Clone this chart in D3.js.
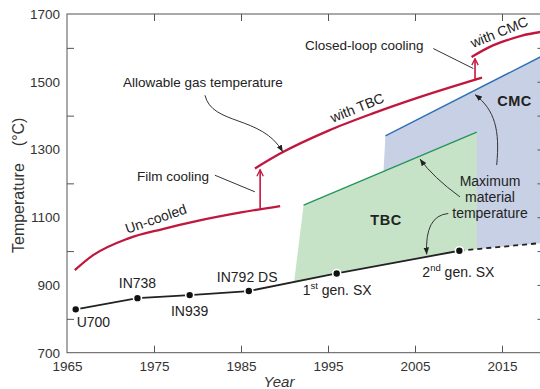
<!DOCTYPE html>
<html>
<head>
<meta charset="utf-8">
<script src="https://cdn.jsdelivr.net/npm/d3@7"></script>
<style>
body { margin: 0; background: #fff; }
text { font-family: "Liberation Sans", Arial, Helvetica, sans-serif; fill: #222; }
</style>
</head>
<body>
<svg id="chart" width="540" height="389"></svg>
<script>
// alloy milestones (black line)
var alloyNames = ['U700', 'IN738', 'IN939', 'IN792 DS', '1st gen. SX', '2nd gen. SX'];
var alloyYears = [1966.0, 1973.1, 1979.1, 1985.9, 1996.0, 2010.1];
var alloyTemps = [828, 861, 870, 882, 934, 1001];
var projected = [[2010.1, 1001], [2020, 1025]];

// allowable gas temperature (red)
var uncooled = [[1965.9, 944], [1968, 988], [1972, 1037], [1976, 1065], [1980, 1089], [1985, 1114], [1989.5, 1133]];
var withTBC = [[1986.6, 1244], [1989.5, 1288], [1995, 1355], [2000, 1405], [2005, 1450], [2012.7, 1512]];
var withCMC = [[2011.5, 1573], [2013.6, 1603], [2015.5, 1622], [2017.4, 1637], [2019.4, 1647], [2020, 1650]];

// maximum material temperature
var tbcLine = [[1992.2, 1136], [2012.1, 1351]];
var cmcLine = [[2001.6, 1340], [2020, 1581]];
var tbcRegion = [[1992.2, 1136], [2012.1, 1351], [2012.1, 1006], [2010.1, 1001], [1996, 934], [1991.1, 908]];
var cmcRegion = [[2001.6, 1340], [2020, 1581], [2020, 1025], [2010.1, 1001], [2000.8, 957]];

// cooling steps
var filmCooling = [[1987.2, 1121], [1987.2, 1240]];
var closedLoop = [[2011.9, 1505], [2011.9, 1568]];

var xLabels = [1965, 1975, 1985, 1995, 2005, 2015];
var yLabels = [700, 900, 1100, 1300, 1500, 1700];
var yMinor = [800, 1000, 1200, 1400, 1600];
var yRight = [800, 900, 1000, 1100, 1200, 1300, 1400, 1500, 1600];

var red = '#c0173f';

var svg = d3.select('#chart');

var x = d3.scaleLinear().domain([1965, 2020]).range([67, 545.5]);
var y = d3.scaleLinear().domain([700, 1700]).range([352.7, 14]);
var P = function(d) { return [x(d[0]), y(d[1])]; };

var defs = svg.append('defs');
defs.append('marker')
    .attr('id', 'arrowBlack')
    .attr('viewBox', '0 0 10 10')
    .attr('refX', 10).attr('refY', 5)
    .attr('markerWidth', 7).attr('markerHeight', 7)
    .attr('markerUnits', 'userSpaceOnUse')
    .attr('orient', 'auto')
    .append('path').attr('d', 'M0,1 L10,5 L0,9 Z').attr('fill', '#222');
defs.append('marker')
    .attr('id', 'arrowRed')
    .attr('viewBox', '0 0 10 10')
    .attr('refX', 9).attr('refY', 5)
    .attr('markerWidth', 8).attr('markerHeight', 8)
    .attr('markerUnits', 'userSpaceOnUse')
    .attr('orient', 'auto')
    .append('path').attr('d', 'M1,1 L9,5 L1,9').attr('fill', 'none')
    .attr('stroke', red).attr('stroke-width', 1.6);

var polygon = d3.line().x(d => x(d[0])).y(d => y(d[1]));
var curve = d3.line().x(d => x(d[0])).y(d => y(d[1])).curve(d3.curveMonotoneX);

// regions
svg.append('path').attr('d', polygon(cmcRegion) + 'Z').attr('fill', '#c8d0e6');
svg.append('path').attr('d', polygon(tbcRegion) + 'Z').attr('fill', '#c6e3c8');
svg.append('path').attr('d', polygon(cmcLine)).attr('stroke', '#2f70b4').attr('stroke-width', 1.4).attr('fill', 'none');
svg.append('path').attr('d', polygon(tbcLine)).attr('stroke', '#23955a').attr('stroke-width', 1.4).attr('fill', 'none');

// frame and axes
var frame = svg.append('g').attr('stroke', '#555').attr('fill', 'none');
frame.append('rect')
    .attr('x', x(1965)).attr('y', y(1700))
    .attr('width', x(2020) - x(1965)).attr('height', y(700) - y(1700));

var axisStyle = function(g) {
    g.select('.domain').remove();
    g.selectAll('line').attr('stroke', '#555');
    g.selectAll('text').attr('font-size', '13.5px').style('fill', '#333');
};

svg.append('g').attr('transform', `translate(0,${y(700)})`)
    .call(d3.axisBottom(x).tickValues(xLabels).tickSize(-7).tickPadding(8.5).tickFormat(d3.format('d')))
    .call(axisStyle)
    .call(g => g.selectAll('.tick').filter(d => d === 1965).select('line').remove())
    .call(g => g.selectAll('text').attr('font-family', null));

svg.append('g').attr('transform', `translate(0,${y(1700)})`)
    .call(d3.axisTop(x).tickValues(xLabels.slice(1)).tickSize(-7).tickFormat(''))
    .call(axisStyle);

svg.append('g').attr('transform', `translate(${x(1965)},0)`)
    .call(d3.axisLeft(y).tickValues(yLabels).tickSize(0).tickPadding(7).tickFormat(d3.format('d')))
    .call(axisStyle)
    .call(g => g.selectAll('text').attr('font-family', null));

svg.append('g').attr('transform', `translate(${x(1965)},0)`)
    .call(d3.axisLeft(y).tickValues(yMinor).tickSize(-7).tickFormat(''))
    .call(axisStyle);

svg.append('g').attr('transform', `translate(${x(2020)},0)`)
    .call(d3.axisRight(y).tickValues(yRight).tickSize(-8).tickFormat(''))
    .call(axisStyle);

// axis titles
svg.append('text')
    .attr('transform', 'translate(24,253) rotate(-90)')
    .attr('font-size', '16px')
    .style('fill', '#333')
    .text('Temperature')
    .append('tspan').attr('dx', 17).text('(°C)');

svg.append('text')
    .attr('x', 279).attr('y', 387)
    .attr('text-anchor', 'middle')
    .attr('font-size', '15px')
    .attr('font-style', 'italic')
    .style('fill', '#333')
    .text('Year');

// alloy line
var alloys = alloyNames.map((n, i) => ({name: n, year: alloyYears[i], temp: alloyTemps[i]}));

svg.append('path')
    .attr('d', polygon(projected))
    .attr('stroke', '#222').attr('stroke-width', 1.8)
    .attr('stroke-dasharray', '5,4').attr('fill', 'none');

svg.append('path')
    .attr('d', polygon(alloys.map(d => [d.year, d.temp])))
    .attr('stroke', '#222').attr('stroke-width', 1.8).attr('fill', 'none');

svg.selectAll('.alloy')
    .data(alloys).enter()
    .append('circle')
    .classed('alloy', true)
    .attr('cx', d => x(d.year)).attr('cy', d => y(d.temp))
    .attr('r', 4)
    .attr('fill', '#111')
    .attr('stroke', '#fff').attr('stroke-width', 1.6);

// label offsets from each point, in pixels
var labelOffset = {
    'U700': {dx: 1, dy: 18, anchor: 'start'},
    'IN738': {dx: 0, dy: -10, anchor: 'middle'},
    'IN939': {dx: 0, dy: 21, anchor: 'middle'},
    'IN792 DS': {dx: -32, dy: -9, anchor: 'start'},
    '1st gen. SX': {dx: -34, dy: 22, anchor: 'start'},
    '2nd gen. SX': {dx: -37, dy: 26, anchor: 'start'}
};

svg.selectAll('.alloy_text')
    .data(alloys).enter()
    .append('text')
    .classed('alloy_text', true)
    .attr('x', d => x(d.year) + labelOffset[d.name].dx)
    .attr('y', d => y(d.temp) + labelOffset[d.name].dy)
    .attr('text-anchor', d => labelOffset[d.name].anchor)
    .attr('font-size', '14px')
    .each(function(d) {
        var t = d3.select(this);
        var m = d.name.match(/^(\d)(st|nd)( .*)$/);
        if (m) {
            t.append('tspan').text(m[1]);
            t.append('tspan').attr('font-size', '9.5px').attr('dy', -6).text(m[2]);
            t.append('tspan').attr('dy', 6).text(m[3]);
        } else {
            t.text(d.name);
        }
    });

// allowable gas temperature
[uncooled, withTBC, withCMC].forEach(function(s) {
    svg.append('path')
        .attr('d', curve(s))
        .attr('stroke', red).attr('stroke-width', 2.3).attr('fill', 'none');
});

[filmCooling, closedLoop].forEach(function(s) {
    svg.append('path')
        .attr('d', polygon(s))
        .attr('stroke', red).attr('stroke-width', 1.6).attr('fill', 'none')
        .attr('marker-end', 'url(#arrowRed)');
});

// pointers
var pointer = function(d, arrow) {
    svg.append('path')
        .attr('d', d)
        .attr('stroke', '#333').attr('stroke-width', 1).attr('fill', 'none')
        .attr('marker-end', arrow ? 'url(#arrowBlack)' : null);
};
var pt = function(a, b) { return P([a, b]).join(','); };

pointer(`M${pt(1980.86, 1460)} C${pt(1981.67, 1371)} ${pt(1987.41, 1401)} ${pt(1989.8, 1293)}`, true);
pointer(`M${pt(1982.0, 1224)} L${pt(1986.6, 1175)}`, false);
pointer(`M${pt(2007.1, 1598)} L${pt(2011.7, 1539)}`, false);
pointer(`M${pt(2014.39, 1254)} C${pt(2014.77, 1357)} ${pt(2014.2, 1416)} ${pt(2011.9, 1462)}`, true);
pointer(`M${pt(2010.17, 1160)} Q${pt(2007.07, 1218)} ${pt(2005.57, 1272)}`, true);
pointer(`M${pt(2008.83, 1111)} Q${pt(2006.1, 1105)} ${pt(2006.34, 990)}`, true);

// annotation text
var note = function(txt, year, temp, opts) {
    opts = opts || {};
    var t = svg.append('text')
        .attr('font-size', opts.size || '14px')
        .attr('font-weight', opts.bold ? 'bold' : null)
        .attr('text-anchor', opts.anchor || 'start')
        .text(txt);
    if (opts.rotate) {
        t.attr('transform', `translate(${x(year)},${y(temp)}) rotate(${opts.rotate})`);
    } else {
        t.attr('x', x(year)).attr('y', y(temp));
    }
    if (opts.spacing) t.attr('letter-spacing', opts.spacing);
    return t;
};

note('Allowable gas temperature', 1971.44, 1484, {size: '13.5px'});
note('Film cooling', 1973.05, 1206, {size: '13.5px'});
note('Closed-loop cooling', 1992.36, 1593, {size: '13.5px'});
note('Maximum', 2013.62, 1192, {anchor: 'middle'});
note('material', 2013.62, 1144, {anchor: 'middle'});
note('temperature', 2013.62, 1097, {anchor: 'middle'});
note('TBC', 2001.67, 1077, {anchor: 'middle', bold: true, size: '14.5px', spacing: '0.5px'});
note('CMC', 2016.44, 1428, {anchor: 'middle', bold: true, size: '14.5px', spacing: '0.5px'});
note('Un-cooled', 1975.4, 1082, {anchor: 'middle', rotate: -19});
note('with TBC', 1998.56, 1410, {anchor: 'middle', rotate: -22});
note('with CMC', 2014.89, 1633, {anchor: 'middle', rotate: -22});
</script>
</body>
</html>
